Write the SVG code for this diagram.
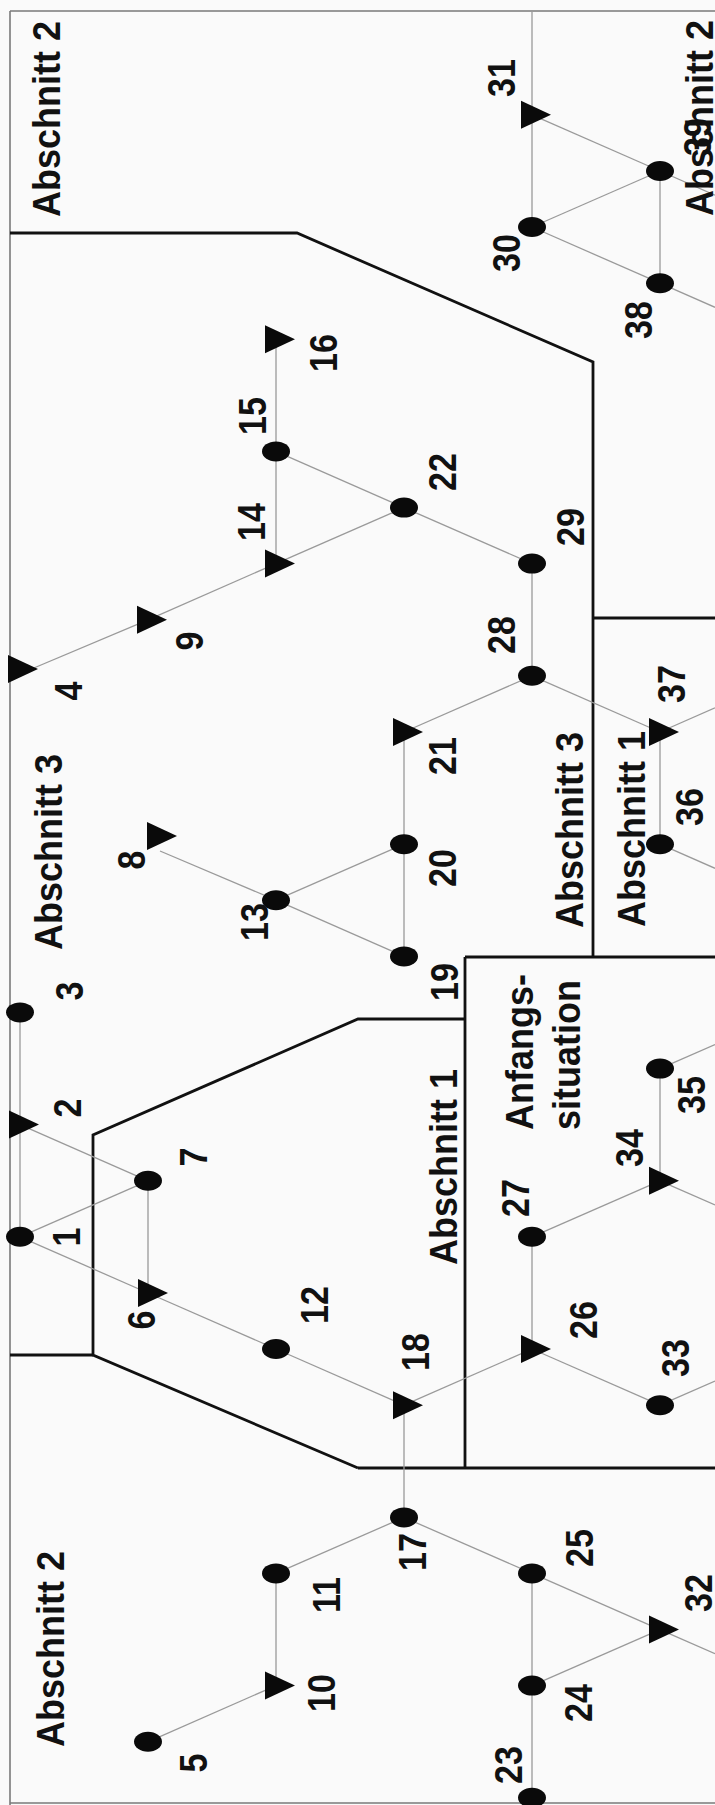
<svg xmlns="http://www.w3.org/2000/svg" width="715" height="1805" viewBox="0 0 715 1805">
<style>
.bg{fill:#fafafa}
.frame{fill:none;stroke:#7a7a7a;stroke-width:1.6}
.bd{fill:none;stroke:#111;stroke-width:2.8;stroke-linejoin:miter}
.cn{stroke:#9a9a9a;stroke-width:1.3;fill:none}
.dot{fill:#0a0a0a}
.tri{fill:#0a0a0a}
.lb{font-family:"Liberation Sans",Arial,sans-serif;font-weight:bold;font-size:34px;fill:#111;text-anchor:middle}
.sec{font-family:"Liberation Sans",Arial,sans-serif;font-weight:bold;font-size:36px;fill:#111;text-anchor:middle}
.st{text-anchor:start}
</style>
<defs>
<path id="tri" d="M-11,-14 L19,0 L-11,14 Z"/>
</defs>
<rect class="bg" x="0" y="0" width="715" height="1805"/>
<g id="frame">
<path class="frame" d="M10,11 L715,11 M10,11 L10,1805 M10,1803 L715,1803"/>
</g>
<g id="boundaries">
<path class="bd" d="M10,233 L297,233 L593,362 L593,957"/>
<path class="bd" d="M593,618 L715,618"/>
<path class="bd" d="M465,957 L715,957"/>
<path class="bd" d="M465,957 L465,1468"/>
<path class="bd" d="M358,1468 L715,1468"/>
<path class="bd" d="M465,1019 L358,1019 L93,1135 L93,1355 L358,1468"/>
<path class="bd" d="M10,1355 L93,1355"/>
</g>
<g id="connectors">
<line class="cn" x1="148" y1="1741.8" x2="276" y2="1685.6"/>
<line class="cn" x1="276" y1="1685.6" x2="276" y2="1573.4"/>
<line class="cn" x1="276" y1="1573.4" x2="404" y2="1517.4"/>
<line class="cn" x1="404" y1="1517.4" x2="404" y2="1405.2"/>
<line class="cn" x1="404" y1="1517.4" x2="532" y2="1573.4"/>
<line class="cn" x1="532" y1="1573.4" x2="532" y2="1685.6"/>
<line class="cn" x1="532" y1="1685.6" x2="532" y2="1797.8"/>
<line class="cn" x1="532" y1="1685.6" x2="660" y2="1629.6"/>
<line class="cn" x1="532" y1="1573.4" x2="660" y2="1629.6"/>
<line class="cn" x1="660" y1="1629.6" x2="715" y2="1653.7"/>
<line class="cn" x1="276" y1="1349" x2="404" y2="1405.2"/>
<line class="cn" x1="148" y1="1293" x2="276" y2="1349"/>
<line class="cn" x1="20" y1="1236.8" x2="148" y2="1293"/>
<line class="cn" x1="20" y1="1236.8" x2="148" y2="1180.8"/>
<line class="cn" x1="148" y1="1180.8" x2="148" y2="1293"/>
<line class="cn" x1="20" y1="1236.8" x2="20" y2="1012.4"/>
<line class="cn" x1="20" y1="1124.6" x2="148" y2="1180.8"/>
<line class="cn" x1="404" y1="1405.2" x2="532" y2="1349"/>
<line class="cn" x1="532" y1="1349" x2="660" y2="1405.2"/>
<line class="cn" x1="532" y1="1349" x2="532" y2="1236.8"/>
<line class="cn" x1="532" y1="1236.8" x2="660" y2="1180.8"/>
<line class="cn" x1="660" y1="1180.8" x2="660" y2="1068.6"/>
<line class="cn" x1="660" y1="1180.8" x2="715" y2="1204.9"/>
<line class="cn" x1="660" y1="1405.2" x2="715" y2="1381.1"/>
<line class="cn" x1="660" y1="1068.6" x2="715" y2="1044.5"/>
<line class="cn" x1="660" y1="844.2" x2="715" y2="868.3"/>
<line class="cn" x1="660" y1="844.2" x2="660" y2="732"/>
<line class="cn" x1="660" y1="732" x2="715" y2="707.9"/>
<line class="cn" x1="532" y1="675.8" x2="660" y2="732"/>
<line class="cn" x1="532" y1="675.8" x2="404" y2="732"/>
<line class="cn" x1="532" y1="675.8" x2="532" y2="563.6"/>
<line class="cn" x1="532" y1="563.6" x2="404" y2="507.6"/>
<line class="cn" x1="404" y1="507.6" x2="276" y2="563.6"/>
<line class="cn" x1="404" y1="507.6" x2="276" y2="451.4"/>
<line class="cn" x1="276" y1="563.6" x2="276" y2="339.2"/>
<line class="cn" x1="276" y1="563.6" x2="148" y2="619.8"/>
<line class="cn" x1="148" y1="619.8" x2="22" y2="673"/>
<line class="cn" x1="404" y1="732" x2="404" y2="956.4"/>
<line class="cn" x1="404" y1="844.2" x2="276" y2="900.2"/>
<line class="cn" x1="276" y1="900.2" x2="404" y2="956.4"/>
<line class="cn" x1="276" y1="900.2" x2="160" y2="851"/>
<line class="cn" x1="532" y1="12" x2="532" y2="227"/>
<line class="cn" x1="532" y1="114.8" x2="660" y2="171"/>
<line class="cn" x1="532" y1="227" x2="660" y2="171"/>
<line class="cn" x1="532" y1="227" x2="660" y2="283.2"/>
<line class="cn" x1="660" y1="171" x2="660" y2="283.2"/>
<line class="cn" x1="660" y1="283.2" x2="715" y2="307.3"/>
<line class="cn" x1="660" y1="171" x2="715" y2="195.1"/>
</g>
<g id="n1"><ellipse class="dot" cx="20" cy="1236.8" rx="14" ry="10"/><text class="lb" transform="translate(80,1237) rotate(-90) scale(1,1.15)">1</text></g>
<g id="n2"><use href="#tri" class="tri" x="20" y="1124.6"/><text class="lb" transform="translate(81,1108) rotate(-90) scale(1,1.15)">2</text></g>
<g id="n3"><ellipse class="dot" cx="20" cy="1012.4" rx="14" ry="10"/><text class="lb" transform="translate(83,991) rotate(-90) scale(1,1.15)">3</text></g>
<g id="n4"><use href="#tri" class="tri" x="19" y="669"/><text class="lb" transform="translate(82,691) rotate(-90) scale(1,1.15)">4</text></g>
<g id="n5"><ellipse class="dot" cx="148" cy="1741.8" rx="14" ry="10"/><text class="lb" transform="translate(207,1763) rotate(-90) scale(1,1.15)">5</text></g>
<g id="n6"><use href="#tri" class="tri" x="149" y="1293"/><text class="lb" transform="translate(155,1320) rotate(-90) scale(1,1.15)">6</text></g>
<g id="n7"><ellipse class="dot" cx="148" cy="1180.8" rx="14" ry="10"/><text class="lb" transform="translate(207,1157) rotate(-90) scale(1,1.15)">7</text></g>
<g id="n8"><use href="#tri" class="tri" x="158" y="836"/><text class="lb" transform="translate(145,860) rotate(-90) scale(1,1.15)">8</text></g>
<g id="n9"><use href="#tri" class="tri" x="148" y="619.8"/><text class="lb" transform="translate(203,641) rotate(-90) scale(1,1.15)">9</text></g>
<g id="n10"><use href="#tri" class="tri" x="276" y="1685.6"/><text class="lb" transform="translate(335,1693) rotate(-90) scale(1,1.15)">10</text></g>
<g id="n11"><ellipse class="dot" cx="276" cy="1573.4" rx="14" ry="10"/><text class="lb" transform="translate(340,1595) rotate(-90) scale(1,1.15)">11</text></g>
<g id="n12"><ellipse class="dot" cx="276" cy="1349" rx="14" ry="10"/><text class="lb" transform="translate(328,1305) rotate(-90) scale(1,1.15)">12</text></g>
<g id="n13"><ellipse class="dot" cx="276" cy="900.2" rx="14" ry="10"/><text class="lb" transform="translate(268,922) rotate(-90) scale(1,1.15)">13</text></g>
<g id="n14"><use href="#tri" class="tri" x="276" y="563.6"/><text class="lb" transform="translate(265,522) rotate(-90) scale(1,1.15)">14</text></g>
<g id="n15"><ellipse class="dot" cx="276" cy="451.4" rx="14" ry="10"/><text class="lb" transform="translate(266,416) rotate(-90) scale(1,1.15)">15</text></g>
<g id="n16"><use href="#tri" class="tri" x="276" y="339.2"/><text class="lb" transform="translate(337,353) rotate(-90) scale(1,1.15)">16</text></g>
<g id="n17"><ellipse class="dot" cx="404" cy="1517.4" rx="14" ry="10"/><text class="lb" transform="translate(426,1552) rotate(-90) scale(1,1.15)">17</text></g>
<g id="n18"><use href="#tri" class="tri" x="404" y="1405.2"/><text class="lb" transform="translate(429,1352) rotate(-90) scale(1,1.15)">18</text></g>
<g id="n19"><ellipse class="dot" cx="404" cy="956.4" rx="14" ry="10"/><text class="lb" transform="translate(458,982) rotate(-90) scale(1,1.15)">19</text></g>
<g id="n20"><ellipse class="dot" cx="404" cy="844.2" rx="14" ry="10"/><text class="lb" transform="translate(456,868) rotate(-90) scale(1,1.15)">20</text></g>
<g id="n21"><use href="#tri" class="tri" x="404" y="732"/><text class="lb" transform="translate(456,756) rotate(-90) scale(1,1.15)">21</text></g>
<g id="n22"><ellipse class="dot" cx="404" cy="507.6" rx="14" ry="10"/><text class="lb" transform="translate(456,472) rotate(-90) scale(1,1.15)">22</text></g>
<g id="n23"><ellipse class="dot" cx="532" cy="1797.8" rx="14" ry="10"/><text class="lb" transform="translate(522,1765) rotate(-90) scale(1,1.15)">23</text></g>
<g id="n24"><ellipse class="dot" cx="532" cy="1685.6" rx="14" ry="10"/><text class="lb" transform="translate(592,1703) rotate(-90) scale(1,1.15)">24</text></g>
<g id="n25"><ellipse class="dot" cx="532" cy="1573.4" rx="14" ry="10"/><text class="lb" transform="translate(593,1548) rotate(-90) scale(1,1.15)">25</text></g>
<g id="n26"><use href="#tri" class="tri" x="532" y="1349"/><text class="lb" transform="translate(597,1320) rotate(-90) scale(1,1.15)">26</text></g>
<g id="n27"><ellipse class="dot" cx="532" cy="1236.8" rx="14" ry="10"/><text class="lb" transform="translate(529,1198) rotate(-90) scale(1,1.15)">27</text></g>
<g id="n28"><ellipse class="dot" cx="532" cy="675.8" rx="14" ry="10"/><text class="lb" transform="translate(515,635) rotate(-90) scale(1,1.15)">28</text></g>
<g id="n29"><ellipse class="dot" cx="532" cy="563.6" rx="14" ry="10"/><text class="lb" transform="translate(584,527) rotate(-90) scale(1,1.15)">29</text></g>
<g id="n30"><ellipse class="dot" cx="532" cy="227" rx="14" ry="10"/><text class="lb" transform="translate(520,253) rotate(-90) scale(1,1.15)">30</text></g>
<g id="n31"><use href="#tri" class="tri" x="532" y="114.8"/><text class="lb" transform="translate(515,78) rotate(-90) scale(1,1.15)">31</text></g>
<g id="n32"><use href="#tri" class="tri" x="660" y="1629.6"/><text class="lb" transform="translate(712,1593) rotate(-90) scale(1,1.15)">32</text></g>
<g id="n33"><ellipse class="dot" cx="660" cy="1405.2" rx="14" ry="10"/><text class="lb" transform="translate(689,1358) rotate(-90) scale(1,1.15)">33</text></g>
<g id="n34"><use href="#tri" class="tri" x="660" y="1180.8"/><text class="lb" transform="translate(643,1148) rotate(-90) scale(1,1.15)">34</text></g>
<g id="n35"><ellipse class="dot" cx="660" cy="1068.6" rx="14" ry="10"/><text class="lb" transform="translate(705,1095) rotate(-90) scale(1,1.15)">35</text></g>
<g id="n36"><ellipse class="dot" cx="660" cy="844.2" rx="14" ry="10"/><text class="lb" transform="translate(703,807) rotate(-90) scale(1,1.15)">36</text></g>
<g id="n37"><use href="#tri" class="tri" x="660" y="732"/><text class="lb" transform="translate(685,684) rotate(-90) scale(1,1.15)">37</text></g>
<g id="n38"><ellipse class="dot" cx="660" cy="283.2" rx="14" ry="10"/><text class="lb" transform="translate(652,320) rotate(-90) scale(1,1.15)">38</text></g>
<g id="n39"><ellipse class="dot" cx="660" cy="171" rx="14" ry="10"/><text class="lb" transform="translate(711,137) rotate(-90) scale(1,1.15)">39</text></g>
<g id="regions">
<text class="sec" transform="translate(60,119) rotate(-90) scale(1,1.08)">Abschnitt 2</text>
<text class="sec" transform="translate(62,852) rotate(-90) scale(1,1.08)">Abschnitt 3</text>
<text class="sec" transform="translate(64,1649) rotate(-90) scale(1,1.08)">Abschnitt 2</text>
<text class="sec" transform="translate(457,1167) rotate(-90) scale(1,1.08)">Abschnitt 1</text>
<text class="sec st" transform="translate(533,1130) rotate(-90) scale(1,1.08)">Anfangs-</text>
<text class="sec st" transform="translate(580,1130) rotate(-90) scale(1,1.08)">situation</text>
<text class="sec" transform="translate(583,830) rotate(-90) scale(1,1.08)">Abschnitt 3</text>
<text class="sec" transform="translate(645,829) rotate(-90) scale(1,1.08)">Abschnitt 1</text>
<text class="sec" transform="translate(713,118) rotate(-90) scale(1,1.08)">Abschnitt 2</text>
</g>
</svg>
